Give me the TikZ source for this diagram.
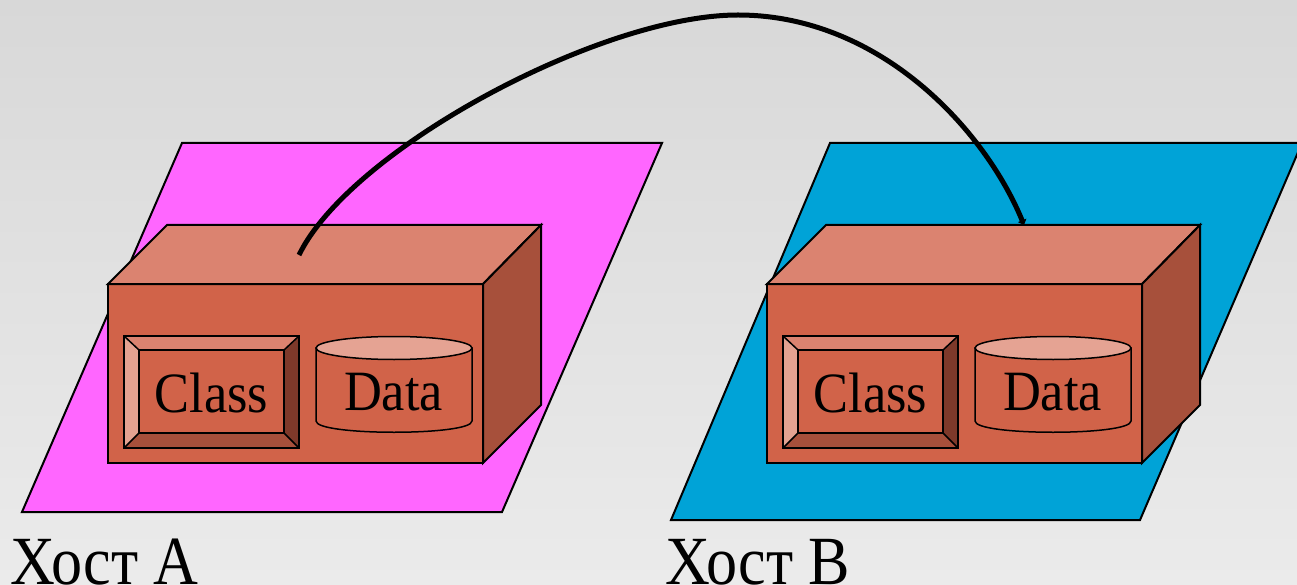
\documentclass[tikz,border=0pt]{standalone}
\usepackage{fontspec}
\setmainfont{Liberation Serif}
\newfontfamily\boxfont[FakeStretch=0.92]{Liberation Serif}
\newfontfamily\hostfont[FakeStretch=0.9]{Liberation Serif}
\usetikzlibrary{arrows.meta}

\definecolor{bgtop}{RGB}{216,216,216}
\definecolor{bgbot}{RGB}{235,235,235}
\definecolor{planeA}{RGB}{255,102,255}
\definecolor{planeB}{RGB}{0,163,215}
\definecolor{boxfront}{RGB}{209,99,73}
\definecolor{boxtop}{RGB}{219,131,112}
\definecolor{boxside}{RGB}{167,80,59}
\definecolor{bevlight}{RGB}{228,162,145}
\definecolor{bevdark}{RGB}{126,57,42}
\definecolor{cyltop}{RGB}{229,163,147}

\tikzset{
  outline/.style={draw=black, line width=2pt, line join=miter},
  thin outline/.style={draw=black, line width=1.5pt, line join=miter},
  boxtext/.style={font=\boxfont\fontsize{57}{60}\selectfont, inner sep=0pt, anchor=base},
  hostlabel/.style={font=\hostfont\fontsize{69}{72}\selectfont, inner sep=0pt, anchor=base west},
  link/.style={line width=5pt, -{Triangle[length=5pt,width=9pt]}},
  host/.pic={
    % cube: front, top and right faces
    \fill[boxfront, outline] (0,0) rectangle (375,179);
    \fill[boxtop, outline] (0,0) -- (59,-59) -- (433,-59) -- (375,0) -- cycle;
    \fill[boxside, outline] (375,0) -- (433,-59) -- (433,121) -- (375,179) -- cycle;
    % bevelled "Class" button
    \fill[boxtop] (16,52) -- (191,52) -- (176,66) -- (31,66) -- cycle;
    \fill[bevlight] (16,52) -- (31,66) -- (31,149) -- (16,164) -- cycle;
    \fill[bevdark] (191,52) -- (191,164) -- (176,149) -- (176,66) -- cycle;
    \fill[boxside] (16,164) -- (31,149) -- (176,149) -- (191,164) -- cycle;
    \draw[thin outline] (16,52) -- (31,66) (191,52) -- (176,66)
                        (16,164) -- (31,149) (191,164) -- (176,149);
    \draw[outline] (31,66) rectangle (176,149);
    \draw[outline] (16,52) rectangle (191,164);
    \node[boxtext] (-class) at (103.5,128) {Class};
    % "Data" cylinder
    \fill[boxfront, thin outline] (208,64) -- (208,137)
      .. controls (208,152) and (364,152) .. (364,137) -- (364,64) -- cycle;
    \fill[cyltop, thin outline] (286,64) ellipse [x radius=78, y radius=11.5];
    \node[boxtext] (-data) at (285.5,126) {Data};
  }
}

\begin{document}
\begin{tikzpicture}[x=1pt, y=-1pt]
  \useasboundingbox (0,0) rectangle (1297,585);
  \shade[top color=bgtop, bottom color=bgbot] (0,0) rectangle (1297,585);

  % host planes
  \fill[planeA, outline] (182,143) -- (662,143) -- (502,512) -- (22,512) -- cycle;
  \fill[planeB, outline] (830,143) -- (1302,143) -- (1140,520) -- (671,520) -- cycle;

  % hosts with their objects
  \pic (hostA) at (108,284) {host};
  \pic (hostB) at (767,284) {host};

  % host names
  \node[hostlabel] (labelA) at (10,584) {Хост A};
  \node[hostlabel] (labelB) at (665,584) {Хост B};

  % migration link
  \coordinate (src) at (299,255);
  \coordinate (apex) at (738,15);
  \coordinate (dst) at (1024,225);
  \draw[link] (src) .. controls (350,150) and (600,15) .. (apex)
              .. controls (880,15) and (985,130) .. (dst);
\end{tikzpicture}
\end{document}
